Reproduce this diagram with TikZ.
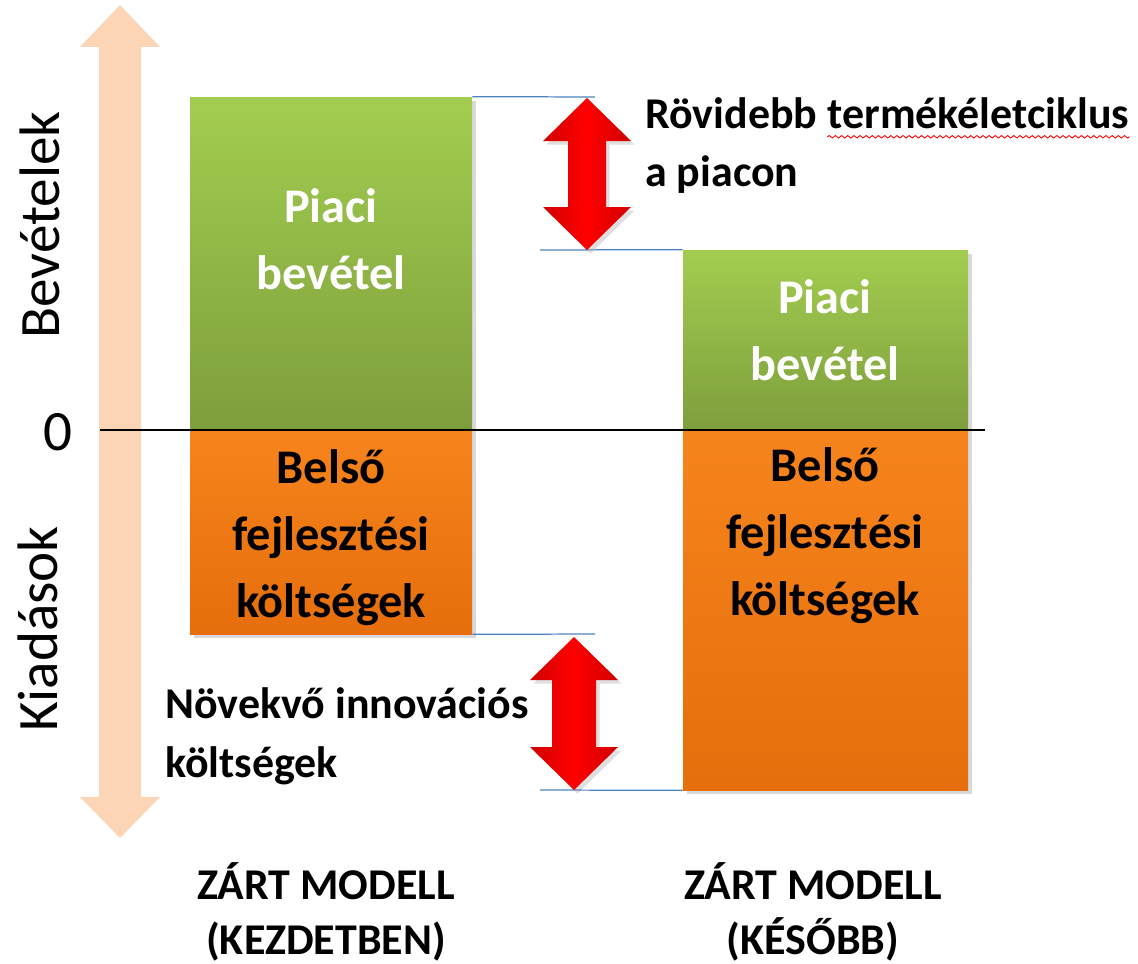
\documentclass[tikz,border=0pt]{standalone}
\usepackage{fontspec}
\setmainfont{Carlito}
\usetikzlibrary{positioning,fit,shadows,decorations.pathmorphing}
\definecolor{peach}{RGB}{251,213,181}
\definecolor{gtop}{RGB}{163,205,80}
\definecolor{gbot}{RGB}{126,158,60}
\definecolor{otop}{RGB}{246,132,28}
\definecolor{obot}{RGB}{230,110,12}
\definecolor{guide}{RGB}{79,129,189}

\begin{document}
\begin{tikzpicture}[
    x=0.02cm, y=-0.02cm,
    box/.style ={
        inner sep=0,
        drop shadow={opacity=0.3, shadow xshift=2pt, shadow yshift=-2pt}
    },
    gbox/.style ={box, top color=gtop, bottom color=gbot},
    obox/.style ={box, top color=otop, bottom color=obot},
    btxt/.style ={font=\fontsize{27.5}{38.1}\selectfont\bfseries, align=center, anchor=base, inner sep=0},
    atxt/.style ={font=\fontsize{25}{33.5}\selectfont\bfseries, align=left, anchor=base west, inner sep=0},
    mtxt/.style ={font=\fontsize{25}{31.3}\selectfont\bfseries, align=center, anchor=base, inner sep=0},
    side/.style ={font=\fontsize{32.5}{39}\selectfont, inner sep=0},
    guide/.style ={draw=guide, line width=0.7pt},
    redarrow/.style ={
        left color=red!82!black, right color=red!82!black, middle color=red,
        drop shadow={opacity=0.25, shadow xshift=2pt, shadow yshift=-2pt}
    }
    ]
    \useasboundingbox (0,0) rectangle (1138,963);

    % revenue / expense axis
    \fill[peach] (120,5) -- (160,47) -- (141,47) -- (141,797) -- (160,797) -- (120,838)
        -- (80,797) -- (99,797) -- (99,47) -- (80,47) -- cycle;
    \node[side, rotate=90] (rev) at (40,225) {Bevételek};
    \node[side, rotate=90] (exp) at (38,629) {Kiadások};
    \node[side] (zero) at (58,432) {0};

    % bars
    \node[gbox, fit={(190,97) (472,430)}] (g1) {};
    \node[obox, fit={(190,430) (472,634)}] (o1) {};
    \node[gbox, fit={(683,250) (968,430)}] (g2) {};
    \node[obox, fit={(683,430) (968,790)}] (o2) {};

    % text nodes sit on the baseline of their last line
    \node[btxt, white] (g1t) at (331,289) {Piaci\\bevétel};
    \node[btxt, white] (g2t) at (825,380) {Piaci\\bevétel};
    \node[btxt] (o1t) at (331,617) {Belső\\fejlesztési\\költségek};
    \node[btxt] (o2t) at (825,615) {Belső\\fejlesztési\\költségek};

    \coordinate (zl) at (100,430);
    \coordinate (zr) at (985,430);
    \draw[line width=0.8pt] (zl) -- (zr);

    % guide lines
    \coordinate (t1) at (595,97);
    \coordinate (t2) at (540,250);
    \coordinate (b1) at (595,634);
    \coordinate (b2) at (540,790);
    \draw[guide] (g1.north east) -- (t1);
    \draw[guide] (t2) -- (g2.north west);
    \draw[guide] (o1.south east) -- (b1);
    \draw[guide] (b2) -- (o2.south west);

    % difference arrows
    \foreach \cx/\ya/\yb/\s in {587/98/250/19, 574/637/790/22}
        \path[redarrow] (\cx,\ya) -- (\cx+44,\ya+43) -- (\cx+\s,\ya+43) -- (\cx+\s,\yb-43)
            -- (\cx+44,\yb-43) -- (\cx,\yb) -- (\cx-44,\yb-43) -- (\cx-\s,\yb-43)
            -- (\cx-\s,\ya+43) -- (\cx-44,\ya+43) -- cycle;

    \node[atxt] (short) at (645,128) {Rövidebb};
    \node[atxt, base right=5.6pt of short] (cycle) {termékéletciklus};
    \node[atxt] (mkt) at (645,186) {a piacon};
    \draw[red, line width=0.5pt, decorate, decoration={snake, amplitude=0.7pt, segment length=3.5pt}]
        ([yshift=-5pt]cycle.base west) -- ([yshift=-5pt]cycle.base east);

    \node[atxt] (grow) at (165,777) {Növekvő innovációs\\költségek};

    \node[mtxt] (m1) at (326,954) {ZÁRT MODELL\\(KEZDETBEN)};
    \node[mtxt] (m2) at (813,954) {ZÁRT MODELL\\(KÉSŐBB)};

\end{tikzpicture}
\end{document}
